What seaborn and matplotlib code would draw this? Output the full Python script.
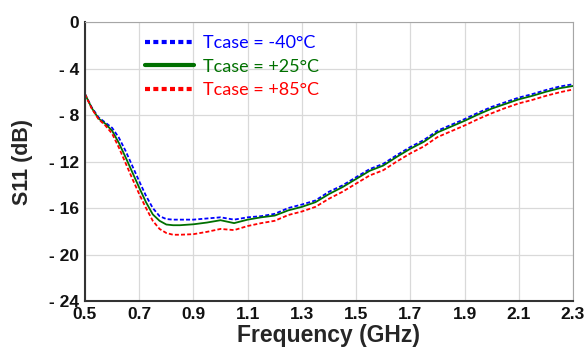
import matplotlib
matplotlib.use("Agg")
import matplotlib.pyplot as plt
from matplotlib.lines import Line2D
import seaborn as sns
import pandas as pd

freq = [0.500, 0.525, 0.550, 0.575, 0.600, 0.625, 0.650, 0.675, 0.700, 0.725, 0.750,
        0.775, 0.800, 0.825, 0.850, 0.90, 0.95, 1.00, 1.05,
        1.10, 1.15, 1.20, 1.25, 1.30, 1.35, 1.40, 1.45, 1.50, 1.55, 1.60, 1.65,
        1.70, 1.75, 1.80, 1.85, 1.90, 1.95, 2.00, 2.05, 2.10, 2.15, 2.20, 2.25, 2.30]
s11_m40 = [-6.2, -7.35, -8.2, -8.65, -9.1, -9.95, -11.1, -12.4, -13.7, -14.95, -16.0,
           -16.7, -16.95, -17.0, -17.0, -17.0, -16.9, -16.8, -17.0,
           -16.8, -16.7, -16.5, -16.0, -15.7, -15.35, -14.6, -14.05, -13.35, -12.65, -12.2, -11.45,
           -10.75, -10.15, -9.35, -8.85, -8.35, -7.8, -7.3, -6.9, -6.5, -6.2, -5.85, -5.55, -5.35]
s11_p25 = [-6.2, -7.4, -8.3, -8.75, -9.35, -10.4, -11.65, -12.95, -14.25, -15.5, -16.55,
           -17.1, -17.42, -17.48, -17.48, -17.4, -17.25, -17.05, -17.3,
           -17.0, -16.8, -16.65, -16.2, -15.9, -15.5, -14.8, -14.2, -13.5, -12.8, -12.35, -11.6,
           -10.9, -10.3, -9.5, -9.0, -8.5, -7.95, -7.45, -7.05, -6.65, -6.35, -6.0, -5.7, -5.5]
s11_p85 = [-6.2, -7.45, -8.35, -8.9, -9.6, -10.8, -12.15, -13.5, -14.8, -16.0, -17.1,
           -17.8, -18.15, -18.3, -18.3, -18.25, -18.05, -17.8, -17.9,
           -17.55, -17.3, -17.1, -16.6, -16.3, -15.9, -15.2, -14.6, -13.9, -13.2, -12.75, -12.0,
           -11.3, -10.7, -9.9, -9.4, -8.9, -8.35, -7.85, -7.4, -7.0, -6.7, -6.35, -6.05, -5.8]
labels = ["Tcase = -40°C", "Tcase = +25°C", "Tcase = +85°C"]
colors = ["#0000FF", "#007000", "#FF0000"]
x_ticks = [0.5, 0.7, 0.9, 1.1, 1.3, 1.5, 1.7, 1.9, 2.1, 2.3]
y_ticks = [0, -4, -8, -12, -16, -20, -24]
y_ticklabels = ["0", "- 4", "- 8", "- 12", "- 16", "- 20", "- 24"]

sns.set_style("white")
plt.rcParams["font.family"] = ["Liberation Sans", "DejaVu Sans"]

fig = plt.figure(figsize=(5.87, 3.5), dpi=100)
ax = fig.add_axes([0.1448, 0.14, 0.9761 - 0.1448, 0.937 - 0.14])

series = [s11_m40, s11_p25, s11_p85]
styles = [(0, (2.2, 1.2)), "-", (0, (2.2, 1.2))]
for vals, lab, col, ls in zip(series, labels, colors, styles):
    df = pd.DataFrame({"f": freq, "s": vals})
    sns.lineplot(data=df, x="f", y="s", ax=ax, color=col, linestyle=ls, lw=1.3,
                 legend=False)

ax.set_xlim(0.5, 2.3)
ax.set_ylim(-24, 0)
ax.set_xticks(x_ticks)
ax.set_xticklabels([f"{v:.1f}" for v in x_ticks])
ax.set_yticks(y_ticks)
ax.set_yticklabels(y_ticklabels)
ax.grid(True, color="#d9d9d9", lw=0.9)
ax.set_axisbelow(True)
for t in ax.get_xticklabels() + ax.get_yticklabels():
    t.set_fontweight("bold")
    t.set_fontsize(12.5)
    t.set_color("#111111")
ax.tick_params(axis="both", length=0, pad=4)
ax.set_xlabel("Frequency (GHz)", fontsize=16.5, fontweight="bold", labelpad=2)
ax.set_ylabel("S11 (dB)", fontsize=15.5, fontweight="bold", labelpad=12)

ax.spines["left"].set_color("#333333")
ax.spines["bottom"].set_color("#333333")
ax.spines["left"].set_linewidth(1.5)
ax.spines["bottom"].set_linewidth(1.5)
ax.spines["top"].set_color("#a6a6a6")
ax.spines["right"].set_color("#a6a6a6")

handles = [Line2D([], [], color=c, lw=3, linestyle=(0, (1.2, 0.8)) if ls != "-" else "-")
           for c, ls in zip(colors, styles)]
leg = ax.legend(handles, labels, loc="upper left", bbox_to_anchor=(0.09, 1.012),
                frameon=False, handlelength=2.7, handletextpad=0.5, labelspacing=0.42,
                prop={"family": ["Lato", "DejaVu Sans"], "size": 13},
                labelcolor=colors)

fig.savefig("out.png", dpi=100)
